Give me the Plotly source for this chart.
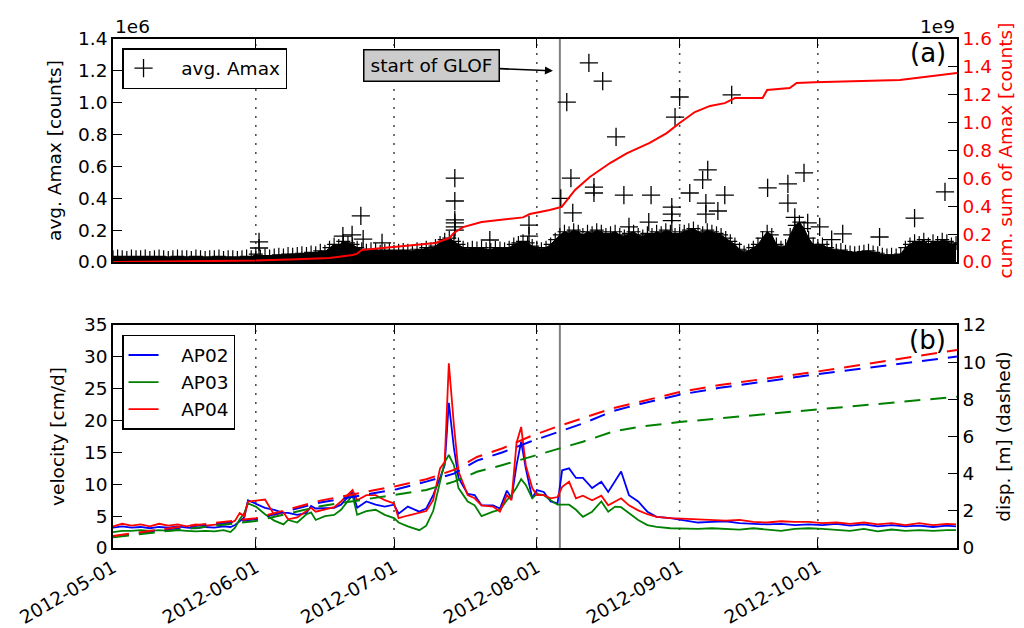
import pandas as pd
import plotly.graph_objects as go

BASE = pd.Timestamp("2012-05-01")

# ---------------- data (day offsets since 2012-05-01) ----------------
month_ticks = ["2012-05-01", "2012-06-01", "2012-07-01", "2012-08-01", "2012-09-01", "2012-10-01"]
month_lines = ["2012-06-01", "2012-07-01", "2012-08-01", "2012-09-01", "2012-10-01"]
glof_date = "2012-08-06"

# dense band of avg. Amax (top of the dense crosses per day, in 1e6 counts)
band_day = list(range(184))
band_top = [0.03, 0.035, 0.03, 0.025, 0.035, 0.03, 0.03, 0.035, 0.025, 0.03, 0.035, 0.03, 0.025, 0.03, 0.035, 0.03,
            0.03, 0.025, 0.035, 0.03, 0.025, 0.03, 0.03, 0.035, 0.025, 0.03, 0.03, 0.025, 0.03, 0.035, 0.03,
            0.05, 0.035, 0.04, 0.035, 0.04, 0.045, 0.04, 0.05, 0.045, 0.05, 0.055, 0.05, 0.06, 0.055, 0.07, 0.065,
            0.09, 0.11, 0.1, 0.13, 0.12, 0.11,
            0.09, 0.08, 0.07, 0.08, 0.075, 0.065, 0.07, 0.075,
            0.065, 0.07, 0.075, 0.07, 0.065, 0.08, 0.075, 0.09, 0.08,
            0.1, 0.12, 0.14, 0.15, 0.13, 0.11, 0.09,
            0.08, 0.09, 0.085, 0.09, 0.08, 0.075, 0.09, 0.085, 0.08, 0.09, 0.11, 0.12,
            0.13, 0.12, 0.1, 0.09, 0.08, 0.09, 0.11, 0.14,
            0.17, 0.19, 0.18, 0.2, 0.19, 0.17, 0.19, 0.18, 0.2, 0.19, 0.17, 0.18, 0.19, 0.17, 0.16, 0.18, 0.19, 0.17,
            0.16, 0.18, 0.17, 0.19, 0.18, 0.2, 0.19, 0.17,
            0.18, 0.19, 0.2, 0.21, 0.19, 0.18, 0.2, 0.19, 0.18, 0.17, 0.15, 0.13, 0.11,
            0.08, 0.06, 0.07, 0.09, 0.11,
            0.15, 0.19, 0.17, 0.11,
            0.09, 0.1,
            0.17, 0.23, 0.25, 0.21, 0.15,
            0.11, 0.1, 0.11, 0.09, 0.08,
            0.07, 0.075, 0.065, 0.06, 0.055, 0.06, 0.065, 0.07, 0.06, 0.055,
            0.045, 0.04, 0.045, 0.04, 0.05,
            0.09, 0.11, 0.13, 0.12, 0.14, 0.11, 0.13, 0.12, 0.14, 0.13, 0.11, 0.12]

# individual larger avg. Amax values (1e6 counts)
amax_day = [31.7, 31.7, 49.9, 51.9, 53.8, 54.3, 58.4,
            74.2, 74.2, 74.2, 74.2, 74.2, 74.2, 81.8, 90.3, 90.3, 97.2,
            98.5, 99.4, 99.8, 103.3, 104.4, 104.4, 106.3, 109.2, 110.9, 112.0, 116.3, 116.8,
            121.3, 121.3, 121.3, 122.0, 123.0, 125.2, 128.0, 128.7, 128.7, 129.1, 131.3, 132.8, 134.3,
            142.1, 146.5, 146.5, 148.0, 150.0, 150.8, 153.4, 156.0, 158.4, 166.4, 174.0, 180.6]
amax_val = [0.126, 0.088, 0.163, 0.17, 0.289, 0.144, 0.12,
            0.527, 0.383, 0.264, 0.245, 0.22, 0.2, 0.138, 0.232, 0.163, 0.40,
            1.004, 0.527, 0.308, 1.25, 0.47, 0.433, 1.136, 0.785, 0.42, 0.22, 0.25, 0.42,
            0.345, 0.30, 0.26, 0.91, 1.036, 0.433, 0.515, 0.37, 0.30, 0.578, 0.32, 0.42, 1.049,
            0.465, 0.49, 0.37, 0.28, 0.56, 0.245, 0.22, 0.14, 0.176, 0.157, 0.276, 0.44]

# cumulative sum of Amax (1e9 counts)
cum_day = [0, 14, 31, 40, 47, 52, 53, 54, 60.8, 70, 73, 74, 76, 80, 89, 90.5, 94.8, 97.4, 100.3, 103.5,
           107.9, 111.5, 116.5, 120.2, 123, 126.3, 129.6, 132.8, 135, 141, 142, 146.9, 148.4, 152.3, 170.8,
           180.6, 183.2]
cum_val = [0.0, 0.003, 0.01, 0.02, 0.029, 0.05, 0.06, 0.086, 0.108, 0.136, 0.172, 0.208, 0.25, 0.287, 0.32,
           0.344, 0.373, 0.395, 0.517, 0.61, 0.71, 0.78, 0.854, 0.925, 0.997, 1.076, 1.12, 1.14, 1.176, 1.176,
           1.234, 1.248, 1.284, 1.29, 1.305, 1.349, 1.356]

# velocities [cm/d]
vel_day = [0, 2, 4, 6, 8, 10, 12, 14, 16, 18, 20, 22, 24,
           25.5, 26.5, 27.5, 28.5, 29.3,
           31, 33, 35, 37, 38, 40, 42, 43, 44, 46, 48, 49.5,
           52, 53, 55, 57, 59,
           61, 62, 64, 66.5, 68, 69.5,
           71, 72, 72.9, 74, 75, 77, 78.5, 80, 82.5, 84,
           85.5, 86.5, 87.6, 88.6, 89.6, 91, 92, 93.5, 95, 96.5,
           97.5, 99, 100.5, 102, 104, 106, 107.5, 109, 110.3, 112,
           114, 116, 118, 121, 124, 127, 130,
           133, 136, 139, 142, 145, 148, 151, 154, 157, 160, 163, 166, 169, 172, 175, 178, 181, 183]
vel_ap02 = [3.2, 3.4, 3.2, 3.3, 3.1, 3.3, 3.2, 3.4, 3.2, 3.1, 3.3, 3.2, 3.4,
            3.3, 3.6, 4.2, 4.8, 7.5,
            7.0, 6.3, 6.0, 5.5, 5.5, 5.2, 5.5, 6.6, 6.2, 6.2, 6.3, 6.8,
            8.8, 6.3, 7.3, 6.8, 6.5,
            6.8, 5.4, 6.5, 5.7, 6.2, 8.3,
            11.0, 13.0, 22.8, 15.7, 11.0, 8.5, 8.3, 6.7, 6.7, 6.2,
            9.0, 7.8, 13.0, 16.7, 12.5, 7.8, 9.1, 8.8, 7.3, 7.0,
            12.2, 12.5, 11.0, 11.0, 9.4, 10.4, 8.8, 10.5, 12.0, 8.3,
            7.3, 5.7, 4.9, 4.7, 4.4, 4.0, 4.1,
            4.2, 3.9, 3.8, 3.7, 3.8, 3.6, 3.7, 3.6, 3.8, 3.5, 3.7, 3.4, 3.6, 3.4, 3.5, 3.3, 3.5, 3.4]
vel_ap03 = [2.5, 2.7, 2.7, 2.8, 2.7, 2.8, 2.7, 2.8, 2.7, 2.6, 2.7, 2.6, 2.8,
            2.5, 3.2, 4.5, 5.5, 7.0,
            6.5, 5.3, 4.3, 3.7, 4.4, 4.0, 5.3, 5.6, 4.4, 5.0, 5.2, 6.0,
            8.3, 5.2, 5.8, 6.0, 5.2,
            4.7, 4.0, 3.4, 2.8, 3.5, 5.8,
            10.4, 13.5, 14.6, 13.0, 9.4, 7.3, 6.7, 5.0, 5.7, 6.0,
            7.5, 8.3, 9.5, 10.8, 9.9, 7.8, 8.5, 8.3, 7.5, 6.8,
            6.8, 6.8, 6.0, 4.9, 5.7, 7.3, 5.7, 6.5, 6.4, 5.5,
            4.4, 3.6, 3.3, 3.1, 3.0, 3.0, 3.1,
            3.0, 2.9, 3.1, 2.9, 2.7, 3.0, 3.1, 3.0, 2.9, 2.7, 3.0, 2.6, 2.9, 2.7, 2.8, 2.7, 2.8, 2.8]
vel_ap04 = [3.4, 3.8, 3.5, 3.7, 3.4, 3.8, 3.5, 3.7, 3.4, 3.7, 3.5, 3.6, 3.8,
            3.9, 4.3, 5.5, 5.0, 7.3,
            7.4, 7.6, 5.2, 5.6, 4.5, 4.8, 5.8, 6.3, 5.7, 6.0, 6.4, 7.3,
            9.1, 7.5, 8.3, 8.3, 7.5,
            7.0, 4.7, 5.1, 5.5, 5.8, 7.5,
            12.5, 13.5, 29.0, 19.3, 12.0, 8.3, 7.8, 6.7, 6.5, 5.7,
            8.3, 7.5, 16.5, 19.0, 13.0, 9.4, 8.3, 8.3, 7.8, 8.0,
            9.6, 10.4, 7.8, 8.2, 7.5, 8.2, 6.7, 7.3, 7.8, 6.7,
            5.9, 5.3, 4.9, 4.7, 4.6, 4.4, 4.4,
            4.3, 4.4, 4.1, 4.0, 4.2, 4.1, 4.1, 3.9, 4.0, 3.8, 4.0, 3.7, 3.9, 3.6, 3.9, 3.6, 3.8, 3.7]

# displacements [m] (dashed)
disp_day = [0, 15, 31, 45, 61.6, 68, 74, 79, 84.6, 90.5, 96.4, 102, 108.5, 114.4, 123, 131.7, 153, 183.2]
disp_ap02 = [0.62, 1.1, 1.55, 2.45, 3.16, 3.57, 4.0, 4.7, 5.15, 5.72, 6.22, 6.7, 7.37, 7.75, 8.25, 8.62, 9.36, 10.3]
disp_ap03 = [0.58, 1.0, 1.45, 2.25, 2.9, 3.12, 3.57, 4.1, 4.47, 4.9, 5.3, 5.72, 6.26, 6.53, 6.78, 6.98, 7.46, 8.14]
disp_ap04 = [0.65, 1.15, 1.6, 2.55, 3.34, 3.7, 4.2, 4.9, 5.37, 6.0, 6.53, 6.98, 7.52, 7.87, 8.4, 8.77, 9.5, 10.66]


def to_dates(days):
    return [BASE + pd.Timedelta(days=float(d)) for d in days]


FONT = "DejaVu Sans"
FS = 18.5
BLUE, GREEN, RED = "#0000ff", "#008000", "#ff0000"
X_RANGE = ["2012-05-01", "2012-10-31 05:00"]
PAD = "\u00a0\u00a0\u00a0"  # legend text indent (matplotlib-style gap after key)

fig = go.Figure()

# ---- panel (a) ----
fig.add_trace(go.Scatter(x=to_dates(band_day), y=band_top, mode="lines", fill="tozeroy",
                         line=dict(color="black", width=1), fillcolor="black",
                         xaxis="x", yaxis="y", showlegend=False, hoverinfo="skip"))
fig.add_trace(go.Scatter(x=to_dates(band_day), y=band_top, mode="markers",
                         marker=dict(symbol="cross-thin", size=10, line=dict(color="black", width=1.2)),
                         xaxis="x", yaxis="y", showlegend=False))
fig.add_trace(go.Scatter(x=to_dates(amax_day), y=amax_val, mode="markers", name=PAD + "avg. Amax",
                         marker=dict(symbol="cross-thin", size=13, line=dict(color="black", width=1.3)),
                         xaxis="x", yaxis="y", legend="legend"))
fig.add_trace(go.Scatter(x=to_dates(cum_day), y=cum_val, mode="lines",
                         line=dict(color=RED, width=2), xaxis="x", yaxis="y2", showlegend=False))

# ---- panel (b) ----
for name, vals, col in [("AP02", vel_ap02, BLUE), ("AP03", vel_ap03, GREEN), ("AP04", vel_ap04, RED)]:
    fig.add_trace(go.Scatter(x=to_dates(vel_day), y=vals, mode="lines", name=PAD + name,
                             line=dict(color=col, width=1.8), xaxis="x2", yaxis="y3",
                             legend="legend2", legendgroup=name))
for name, vals, col in [("AP02", disp_ap02, BLUE), ("AP03", disp_ap03, GREEN), ("AP04", disp_ap04, RED)]:
    fig.add_trace(go.Scatter(x=to_dates(disp_day), y=vals, mode="lines", name=name,
                             line=dict(color=col, width=2, dash="16px,10px"), xaxis="x2", yaxis="y4",
                             showlegend=False))

axis_common = dict(showline=True, linecolor="black", linewidth=1.6, ticks="inside", ticklen=9,
                   tickwidth=1.3, tickcolor="black", showgrid=False, zeroline=False,
                   tickfont=dict(family=FONT, size=FS, color="black"))

top_dom = [0.5619, 1.0]
bot_dom = [0.0, 0.4381]

fig.update_layout(
    width=1024, height=628,
    margin=dict(l=113, r=67, t=39, b=80, autoexpand=False),
    paper_bgcolor="white", plot_bgcolor="white",
    font=dict(family=FONT, size=FS, color="black"),
    xaxis=dict(**axis_common, domain=[0, 1], anchor="y", type="date", range=X_RANGE,
               tickvals=month_ticks, showticklabels=False, mirror="ticks"),
    yaxis=dict(**axis_common, domain=top_dom, anchor="x", range=[0, 1.4], dtick=0.2, tickformat=".1f",
               title=dict(text="avg. Amax [counts]", standoff=12, font=dict(family=FONT, size=FS))),
    yaxis2=dict(**{**axis_common, "tickfont": dict(family=FONT, size=FS, color=RED)},
                overlaying="y", side="right", anchor="x", range=[0, 1.6], dtick=0.2, tickformat=".1f",
                title=dict(text="cum. sum of Amax [counts]", standoff=8,
                           font=dict(family=FONT, size=FS, color=RED))),
    xaxis2=dict(**axis_common, domain=[0, 1], anchor="y3", type="date", range=X_RANGE,
                tickvals=month_ticks, ticktext=month_ticks, tickangle=-30, mirror="ticks"),
    yaxis3=dict(**axis_common, domain=bot_dom, anchor="x2", range=[0, 35], dtick=5,
                title=dict(text="velocity [cm/d]", standoff=14, font=dict(family=FONT, size=FS))),
    yaxis4=dict(**axis_common, overlaying="y3", side="right", anchor="x2", range=[0, 12], dtick=2,
                title=dict(text="disp. [m] (dashed)", standoff=12, font=dict(family=FONT, size=FS))),
    legend=dict(x=0.0107, y=0.982, xanchor="left", yanchor="top", bgcolor="white",
                bordercolor="black", borderwidth=1.5, font=dict(family=FONT, size=FS)),
    legend2=dict(x=0.0107, y=0.4185, xanchor="left", yanchor="top", bgcolor="white",
                 bordercolor="black", borderwidth=1.5, font=dict(family=FONT, size=FS),
                 tracegroupgap=0),
)

shapes = []
for d in month_lines:
    for xr, yr in [("x", "y domain"), ("x2", "y3 domain")]:
        shapes.append(dict(type="line", xref=xr, yref=yr, x0=d, x1=d, y0=0, y1=1, layer="below",
                           line=dict(color="#505050", width=1.6, dash="2px,7px")))
for xr, yr in [("x", "y domain"), ("x2", "y3 domain")]:
    shapes.append(dict(type="line", xref=xr, yref=yr, x0=glof_date, x1=glof_date, y0=0, y1=1,
                       layer="below", line=dict(color="#808080", width=2)))
fig.update_layout(shapes=shapes)

annotations = [
    dict(text="1e6", xref="paper", yref="paper", x=0, y=1.0236, xanchor="left", yanchor="middle",
         showarrow=False, font=dict(family=FONT, size=FS)),
    dict(text="1e9", xref="paper", yref="paper", x=1, y=1.0236, xanchor="right", yanchor="middle",
         showarrow=False, font=dict(family=FONT, size=FS)),
    dict(text="(a)", xref="paper", yref="paper", x=0.989, y=0.9725, xanchor="right", yanchor="middle",
         showarrow=False, font=dict(family=FONT, size=26)),
    dict(text="(b)", xref="paper", yref="paper", x=0.989, y=0.4086, xanchor="right", yanchor="middle",
         showarrow=False, font=dict(family=FONT, size=26)),
    dict(text="start of GLOF", xref="x", yref="y", x=BASE + pd.Timedelta(days=95.5), y=1.2,
         ax=-121, ay=-5, showarrow=True, arrowhead=2, arrowsize=1, arrowwidth=1.6, arrowcolor="black",
         bgcolor="#cccccc", bordercolor="black", borderwidth=1.5, borderpad=3, width=128, height=24,
         font=dict(family=FONT, size=FS)),
]
fig.update_layout(annotations=annotations)

fig.write_html("out.html", config={"displayModeBar": False},
               post_script="document.body.style.margin='0';")
